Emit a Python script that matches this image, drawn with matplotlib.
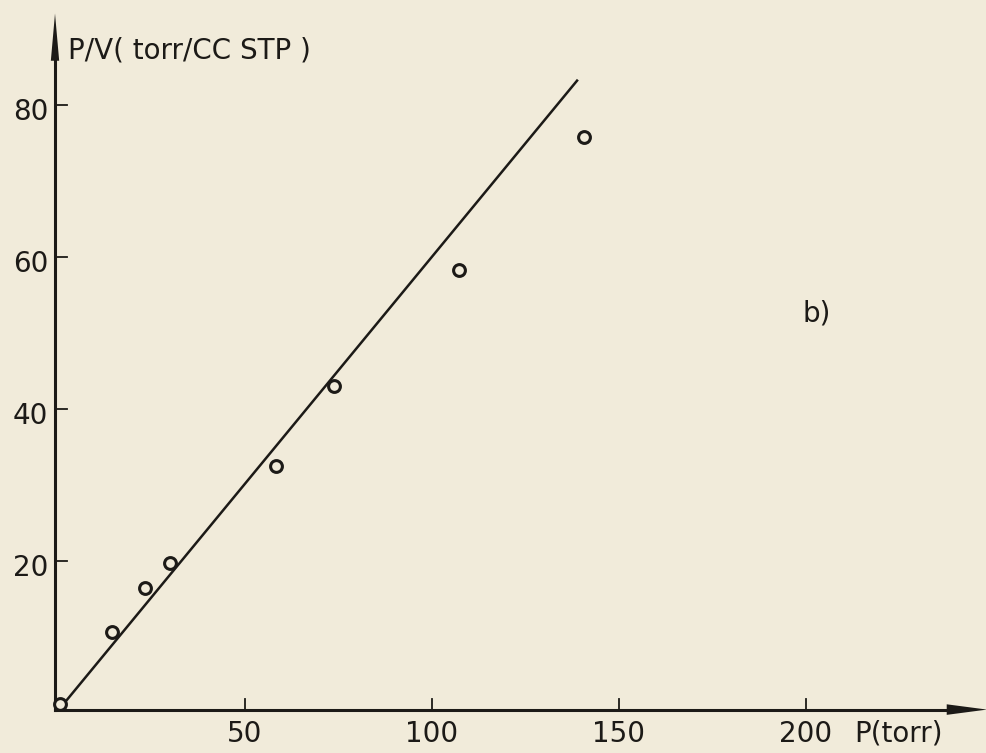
import matplotlib.pyplot as plt

# data
pressure = [0.5, 14.4, 23.3, 29.9, 58.3, 73.8, 107.2, 140.6]
p_over_v = [1.2, 10.7, 16.4, 19.7, 32.5, 43.0, 58.3, 75.8]
fit_x = [0.0, 139.0]
fit_y = [0.3, 83.3]

x_ticks = [50, 100, 150, 200]
y_ticks = [20, 40, 60, 80]

paper = '#f1ebda'
ink = '#1c1a17'
fs = 20

fig = plt.figure(figsize=(9.87, 7.53), dpi=100, facecolor=paper)
# axes placed so the origin sits where the hand-drawn origin is
ax = fig.add_axes([58 / 987, 40 / 753, 929 / 987, 701 / 753], facecolor=paper)
ax.set_xlim(0, 248.4)
ax.set_ylim(0, 92.2)
for s in ax.spines.values():
    s.set_visible(False)
ax.set_xticks([])
ax.set_yticks([])

# axis lines
ax.plot([-0.8, 238], [0.45, 0.45], color=ink, lw=2.2, clip_on=False)
ax.plot([-0.8, -0.8], [0.45, 88], color=ink, lw=2.2, clip_on=False)
# arrow heads (lw=0 so the tip is not pulled back)
ax.annotate('', xy=(248.4, 0.45), xytext=(236, 0.45),
            arrowprops=dict(arrowstyle='-|>,head_length=2.9,head_width=0.38',
                            fc=ink, ec=ink, lw=0, shrinkA=0, shrinkB=0),
            annotation_clip=False)
ax.annotate('', xy=(-0.8, 92.0), xytext=(-0.8, 84),
            arrowprops=dict(arrowstyle='-|>,head_length=3.4,head_width=0.3',
                            fc=ink, ec=ink, lw=0, shrinkA=0, shrinkB=0),
            annotation_clip=False)

# hand-drawn style ticks
for t in x_ticks:
    ax.plot([t, t], [0.45, 1.9], color=ink, lw=1.3, clip_on=False)
    ax.text(t, -0.9, str(t), ha='center', va='top', fontsize=fs, color=ink)
for t in y_ticks:
    ax.plot([-0.8, 2.4], [t, t], color=ink, lw=1.3, clip_on=False)
    ax.text(-2.6, t - 0.9, str(t), ha='right', va='center', fontsize=fs, color=ink)

ax.text(213, -0.9, 'P(torr)', ha='left', va='top', fontsize=fs, color=ink)
ax.text(2.6, 87.2, 'P/V( torr/CC STP )', ha='left', va='center', fontsize=fs, color=ink)
ax.text(199, 52.6, 'b)', ha='left', va='center', fontsize=fs, color=ink)

ax.plot(fit_x, fit_y, color=ink, lw=1.8, solid_capstyle='butt')
ax.plot(pressure, p_over_v, 'o', ms=8.5, mfc=paper, mec=ink, mew=2.2,
        linestyle='none', clip_on=False, zorder=3)

fig.savefig('out.png', dpi=100, facecolor=paper)
